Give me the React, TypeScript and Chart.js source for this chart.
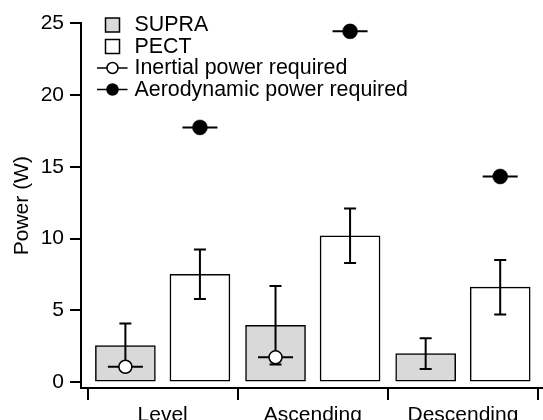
import React, { useEffect, useRef } from "react";
import { Chart, registerables } from "chart.js";

Chart.register(...registerables);

const FONT = '"Liberation Sans", Arial, Helvetica, sans-serif';

// ---- data ----
const categories = ["Level", "Ascending", "Descending"];
const supraMean = [2.55, 3.97, 2.0];
const supraErr = [1.55, 2.73, 1.07];
const pectMean = [7.52, 10.2, 6.62];
const pectErr = [1.72, 1.9, 1.9];
const inertialPower: (number | null)[] = [1.08, 1.74, null];
const aeroPower = [17.75, 24.44, 14.33];
const yTicks = [0, 5, 10, 15, 20, 25];
const Y_MIN = -0.4;
const Y_MAX = 25;

// ---- styles ----
const GROUP_PCT = 0.993; // share of a category used by the two bar slots
const SLOT_OFFSET = GROUP_PCT / 4; // bar centre distance from category centre (category units)
const BAR_THICKNESS = 60;
const GREY = "#d9d9d9";
const WHISKER_HALF = 17.5;
const CAP_HALF = 6;

const legendItems = [
  { label: "SUPRA", kind: "box", fill: GREY },
  { label: "PECT", kind: "box", fill: "#ffffff" },
  { label: "Inertial power required", kind: "point", fill: "#ffffff" },
  { label: "Aerodynamic power required", kind: "point", fill: "#000000" },
];

const atSlot = (vals: (number | null)[], side: number) =>
  vals
    .map((v, i) => (v == null ? null : { x: i + side * SLOT_OFFSET, y: v }))
    .filter((p) => p !== null);

const extrasPlugin = {
  id: "extras",
  beforeDatasetDraw(chart: any, args: any) {
    const ds = chart.data.datasets[args.index];
    if (ds.type !== "scatter") return;
    const ctx = chart.ctx;
    ctx.save();
    ctx.strokeStyle = "#000";
    ctx.lineWidth = 2;
    args.meta.data.forEach((el: any) => {
      ctx.beginPath();
      ctx.moveTo(el.x - WHISKER_HALF, el.y);
      ctx.lineTo(el.x + WHISKER_HALF, el.y);
      ctx.stroke();
    });
    ctx.restore();
  },
  afterDatasetDraw(chart: any, args: any) {
    const ds = chart.data.datasets[args.index];
    if (!ds.errors) return;
    const y = chart.scales.y;
    const ctx = chart.ctx;
    ctx.save();
    ctx.strokeStyle = "#000";
    ctx.lineWidth = 2;
    args.meta.data.forEach((el: any, i: number) => {
      const v = ds.data[i].y;
      const e = ds.errors[i];
      const top = y.getPixelForValue(v + e);
      const bot = y.getPixelForValue(v - e);
      ctx.beginPath();
      ctx.moveTo(el.x, top);
      ctx.lineTo(el.x, bot);
      ctx.moveTo(el.x - CAP_HALF, top);
      ctx.lineTo(el.x + CAP_HALF, top);
      ctx.moveTo(el.x - CAP_HALF, bot);
      ctx.lineTo(el.x + CAP_HALF, bot);
      ctx.stroke();
    });
    ctx.restore();
  },
  afterDraw(chart: any) {
    const ctx = chart.ctx;
    const { bottom } = chart.chartArea;
    const yScale = chart.scales.y;
    ctx.save();
    // x axis line, joined to the y axis
    ctx.strokeStyle = "#000";
    ctx.lineWidth = 2;
    ctx.beginPath();
    ctx.moveTo(yScale.right - 1, bottom);
    ctx.lineTo(chart.width, bottom);
    ctx.stroke();

    // legend
    const markX = 112.5;
    const textX = 134.5;
    const y0 = 25;
    const step = 21.5;
    ctx.font = `21.4px ${FONT}`;
    ctx.textBaseline = "middle";
    ctx.textAlign = "left";
    legendItems.forEach((it, i) => {
      const cy = y0 + i * step;
      ctx.lineWidth = 1.5;
      ctx.strokeStyle = "#000";
      if (it.kind === "box") {
        ctx.fillStyle = it.fill;
        ctx.fillRect(markX - 7, cy - 7, 14, 14);
        ctx.strokeRect(markX - 7, cy - 7, 14, 14);
      } else {
        ctx.beginPath();
        ctx.moveTo(markX - 15.5, cy);
        ctx.lineTo(markX + 15, cy);
        ctx.stroke();
        ctx.beginPath();
        ctx.arc(markX, cy, 5.5, 0, Math.PI * 2);
        ctx.fillStyle = it.fill;
        ctx.fill();
        ctx.stroke();
      }
      ctx.fillStyle = "#000";
      ctx.fillText(it.label, textX, cy + 0.5);
    });
    ctx.restore();
  },
};

export default function App() {
  const ref = useRef<HTMLCanvasElement>(null);

  useEffect(() => {
    const canvas = ref.current;
    if (!canvas) return;
    Chart.defaults.font.family = FONT;
    Chart.defaults.color = "#000";

    const tickFont = { family: FONT, size: 21, lineHeight: 1.2 };
    const barCommon = {
      type: "bar",
      borderColor: "#000",
      borderWidth: 1.5,
      borderSkipped: false,
      grouped: false,
      barThickness: BAR_THICKNESS,
      order: 2,
      xAxisID: "x2",
      yAxisID: "y",
    };

    const chart = new Chart(canvas, {
      type: "bar",
      data: {
        labels: categories,
        datasets: [
          {
            ...barCommon,
            label: "SUPRA",
            data: atSlot(supraMean, -1),
            errors: supraErr,
            backgroundColor: GREY,
          } as any,
          {
            ...barCommon,
            label: "PECT",
            data: atSlot(pectMean, 1),
            errors: pectErr,
            backgroundColor: "#ffffff",
          } as any,
          {
            type: "scatter",
            label: "Inertial power required",
            data: atSlot(inertialPower, -1),
            xAxisID: "x2",
            yAxisID: "y",
            pointRadius: 6.5,
            pointBackgroundColor: "#ffffff",
            pointBorderColor: "#000",
            pointBorderWidth: 1.5,
            showLine: false,
            order: 1,
          } as any,
          {
            type: "scatter",
            label: "Aerodynamic power required",
            data: atSlot(aeroPower, 1),
            xAxisID: "x2",
            yAxisID: "y",
            pointRadius: 7.5,
            pointBackgroundColor: "#000",
            pointBorderColor: "#000",
            pointBorderWidth: 0.5,
            showLine: false,
            order: 1,
          } as any,
        ],
      },
      options: {
        responsive: false,
        animation: false,
        devicePixelRatio: 1,
        layout: { padding: { top: 23.3, right: 0, bottom: 0, left: 0 } },
        plugins: {
          legend: { display: false },
          tooltip: { enabled: false },
        },
        scales: {
          x: {
            type: "category",
            offset: true,
            grid: {
              offset: true,
              drawOnChartArea: false,
              drawTicks: true,
              tickLength: 12,
              color: "#000",
              lineWidth: 2,
            },
            border: { display: false },
            ticks: {
              color: "#000",
              font: tickFont,
              padding: 3,
              maxRotation: 0,
              autoSkip: false,
            },
            afterFit: (s: any) => {
              s.height = 32;
            },
          },
          x2: {
            type: "linear",
            display: false,
            offset: false,
            grid: { offset: false },
            min: -0.5,
            max: categories.length - 0.5,
          },
          y: {
            type: "linear",
            position: "left",
            stacked: false,
            weight: 2,
            min: Y_MIN,
            max: Y_MAX,
            afterBuildTicks: (s: any) => {
              s.ticks = yTicks.map((v) => ({ value: v }));
            },
            grid: {
              drawOnChartArea: false,
              drawTicks: true,
              tickLength: 11,
              color: "#000",
              lineWidth: 2,
            },
            border: { display: true, color: "#000", width: 2 },
            ticks: { color: "#000", font: tickFont, padding: 6 },
            title: {
              display: true,
              text: "Power (W)",
              color: "#000",
              font: { family: FONT, size: 21, lineHeight: 1.2 },
              padding: { top: 9.5, bottom: 0 },
            },
            afterFit: (s: any) => {
              s.width = 81;
            },
          },
          yGap: {
            type: "linear",
            position: "left",
            weight: 0,
            display: true,
            grid: { display: false },
            border: { display: false },
            ticks: { display: false },
            afterFit: (s: any) => {
              s.width = 6.6;
            },
          },
        },
      } as any,
      plugins: [extrasPlugin],
    });

    return () => chart.destroy();
  }, []);

  return (
    <div
      style={{
        position: "absolute",
        left: 0,
        top: 0,
        width: 543,
        height: 420,
        overflow: "hidden",
        background: "#fff",
      }}
    >
      <canvas
        ref={ref}
        width={546}
        height={420}
        style={{ display: "block", width: 546, height: 420 }}
      />
    </div>
  );
}
